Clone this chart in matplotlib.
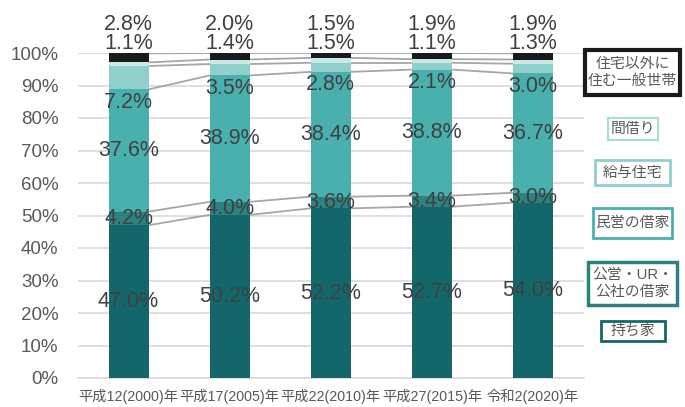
import matplotlib
matplotlib.use("Agg")
import matplotlib.pyplot as plt
from matplotlib.patches import Rectangle
import numpy as np

categories = ["平成12(2000)年", "平成17(2005)年", "平成22(2010)年", "平成27(2015)年", "令和2(2020)年"]
series_names = ["持ち家", "公営・UR・\n公社の借家", "民営の借家", "給与住宅", "間借り", "住宅以外に\n住む一般世帯"]
mochiie = [47.0, 50.2, 52.2, 52.7, 54.0]
koei = [4.2, 4.0, 3.6, 3.4, 3.0]
minei = [37.6, 38.9, 38.4, 38.8, 36.7]
kyuyo = [7.2, 3.5, 2.8, 2.1, 3.0]
magari = [1.1, 1.4, 1.5, 1.1, 1.3]
igai = [2.8, 2.0, 1.5, 1.9, 1.9]
yticks = [0, 10, 20, 30, 40, 50, 60, 70, 80, 90, 100]

colors = ["#13676a", "#2d817e", "#4ab0ae", "#8fd0cd", "#c8e9e6", "#1a1a1a"]
edge_colors = ["#13676a", "#2d817e", "#4ab0ae", "#8fd0cd", "#a9dcd8", "#1a1a1a"]

FONT = ["Liberation Sans", "Noto Sans CJK JP", "DejaVu Sans"]
plt.rcParams['font.family'] = FONT

W, H = 685, 407
fig = plt.figure(figsize=(W/100, H/100), dpi=100)
ax = fig.add_axes([78/W, 29/H, (583.6-78)/W, (378-53)/H])

data = [mochiie, koei, minei, kyuyo, magari, igai]
x = np.arange(len(categories))
w = 0.395
bottom = np.zeros(len(categories))
tops = []
bottoms = []
for vals, c in zip(data, colors):
    v = np.array(vals)
    ax.bar(x, v, w, bottom=bottom, color=c, zorder=3)
    bottoms.append(bottom.copy())
    bottom = bottom + v
    tops.append(bottom.copy())

# series lines
for t in tops:
    for i in range(len(x) - 1):
        ax.plot([x[i] + w/2, x[i+1] - w/2], [t[i], t[i+1]], color="#a6a6a6", lw=1.3, zorder=2)

lab_color = "#404040"
fs = 15.5
for i in range(len(x)):
    for k in range(3):
        ax.text(x[i], bottoms[k][i] + data[k][i]/2, f"{data[k][i]:.1f}%", ha="center", va="center",
                fontsize=fs, color=lab_color, zorder=5)
    ax.text(x[i], bottoms[3][i] - 3.9, f"{kyuyo[i]:.1f}%", ha="center", va="center",
            fontsize=fs, color=lab_color, zorder=5)
    ax.text(x[i], 103.0, f"{magari[i]:.1f}%", ha="center", va="center",
            fontsize=fs, color=lab_color, zorder=5, clip_on=False)
    ax.text(x[i], 108.8, f"{igai[i]:.1f}%", ha="center", va="center",
            fontsize=fs, color=lab_color, zorder=5, clip_on=False)

ax.set_xlim(-0.5, len(x) - 0.5)
ax.set_ylim(0, 100)
ax.set_yticks(yticks)
ax.set_yticklabels([f"{t}%" for t in yticks], fontsize=13.5, color="#595959")
ax.set_xticks(x)
ax.set_xticklabels(categories, fontsize=10.3, color="#595959")
ax.tick_params(axis="both", length=0)
ax.tick_params(axis="y", pad=14)
ax.tick_params(axis="x", pad=8)
ax.yaxis.grid(True, color="#d9d9d9", lw=1.2, zorder=0)
for s in ["top", "right", "left"]:
    ax.spines[s].set_visible(False)
ax.spines["bottom"].set_color("#d9d9d9")
ax.spines["bottom"].set_linewidth(1.2)
ax.set_axisbelow(True)

# legend boxes (custom, right side): (x0, x1, y0, y1) in pixels from top-left
leg_boxes = [(601, 665, 321, 341), (588, 677, 262, 305), (593, 672, 208, 238),
             (595, 670, 160, 185), (608, 658, 118, 140), (585, 680, 50, 95)]
leg_lw = [2.0, 2.5, 2.0, 2.0, 1.5, 3.0]
for name, ec, (x0, x1, y0, y1), lw in zip(series_names, edge_colors, leg_boxes, leg_lw):
    fig.patches.append(Rectangle((x0/W, 1 - y1/H), (x1-x0)/W, (y1-y0)/H, transform=fig.transFigure,
                                 fc="white", ec=ec, lw=lw))
    fig.text((x0+x1)/2/W, 1 - (y0+y1)/2/H, name, ha="center", va="center", fontsize=10.7,
             color="#595959", linespacing=1.2)

fig.savefig("out.png", dpi=100)
